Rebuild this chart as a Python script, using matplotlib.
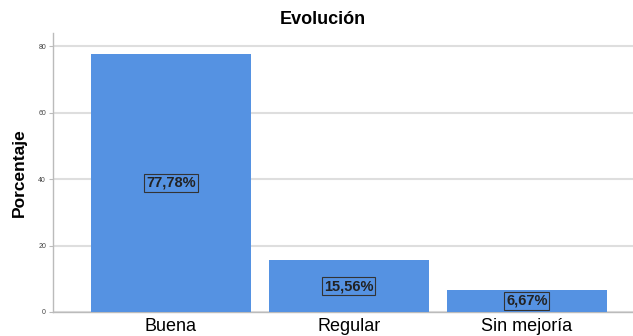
import matplotlib
matplotlib.use("Agg")
import matplotlib.pyplot as plt

plt.rcParams['font.family'] = ['Liberation Sans', 'DejaVu Sans']

# datos
categorias = ["Buena", "Regular", "Sin mejoría"]
porcentajes = [77.78, 15.56, 6.67]
etiquetas = ["77,78%", "15,56%", "6,67%"]
yticks = [0, 20, 40, 60, 80]

fig = plt.figure(figsize=(6.33, 3.36), dpi=100)
ax = fig.add_axes([53 / 633, 24 / 336, 580 / 633, (336 - 24 - 33) / 336])

x = range(len(categorias))
bars = ax.bar(x, porcentajes, width=0.9, color="#5592e2", zorder=3)

# etiqueta centrada en cada barra
for b, txt in zip(bars, etiquetas):
    ax.text(b.get_x() + b.get_width() / 2, b.get_height() / 2, txt,
            ha="center", va="center", fontsize=10.5, fontweight="semibold",
            color="#222222", zorder=4,
            bbox=dict(boxstyle="square,pad=0.12", fc="none", ec="#333333", lw=0.8))

ax.set_xlim(-0.663, 2.596)
ax.set_ylim(0, 84)
ax.set_yticks(yticks)
ax.set_yticklabels([str(t) for t in yticks], fontsize=5, color="#444444")
ax.set_xticks(list(x))
ax.set_xticklabels(categorias, fontsize=13)
ax.tick_params(axis="x", length=0, pad=4)
ax.tick_params(axis="y", length=3, width=0.8, color="#bbbbbb", pad=2)

ax.grid(axis="y", color="#dedede", lw=1.5, zorder=0)
for s in ["top", "right"]:
    ax.spines[s].set_visible(False)
for s in ["left", "bottom"]:
    ax.spines[s].set_color("#bbbbbb")
    ax.spines[s].set_linewidth(1.0)

ax.set_ylabel("Porcentaje", fontsize=12.5, fontweight="bold", labelpad=8)
fig.text(323 / 633, 1 - 20 / 336, "Evolución", ha="center", va="center",
         fontsize=13, fontweight="bold")

fig.savefig("out.png", dpi=100)
